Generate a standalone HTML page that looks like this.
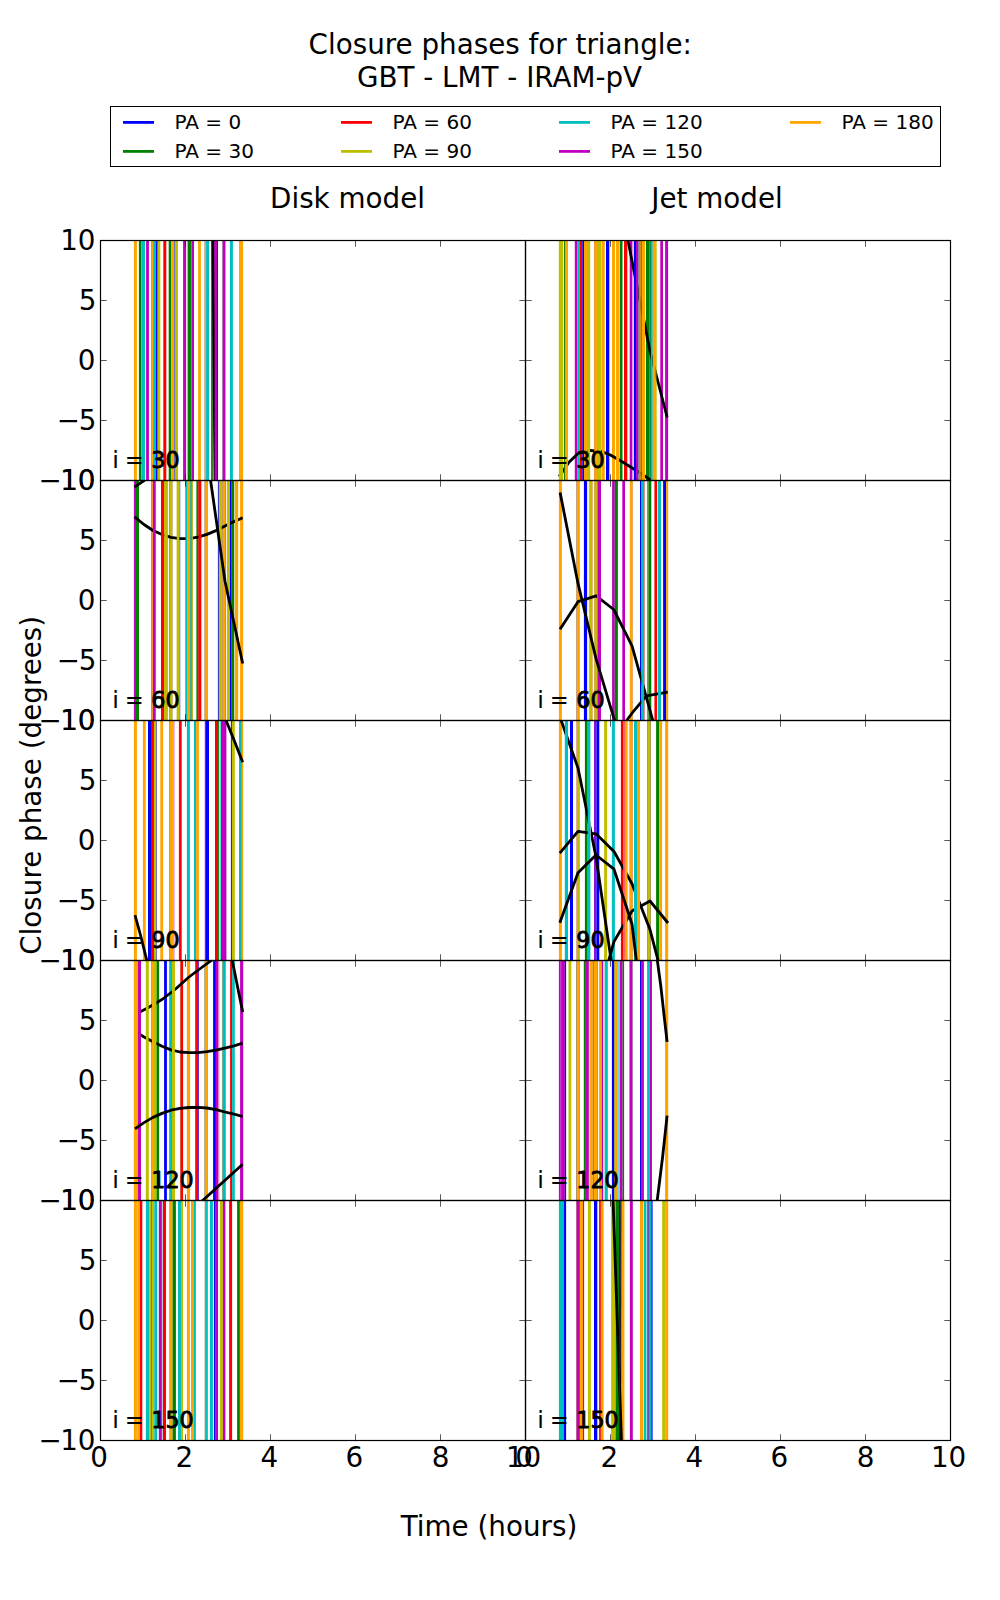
<!DOCTYPE html>
<html lang="en"><head><meta charset="utf-8"><title>Closure phases</title>
<style>html,body{margin:0;padding:0;background:#fff}svg{display:block}</style></head>
<body>
<svg width="1000" height="1600" viewBox="0 0 1000 1600" font-family="'DejaVu Sans', 'Liberation Sans', sans-serif" fill="#000">
<rect x="0" y="0" width="1000" height="1600" fill="#fff"/>
<defs>
<clipPath id="cp00"><rect x="101" y="241" width="424" height="239"/></clipPath>
<clipPath id="cp01"><rect x="526" y="241" width="424" height="239"/></clipPath>
<clipPath id="cp10"><rect x="101" y="481" width="424" height="239"/></clipPath>
<clipPath id="cp11"><rect x="526" y="481" width="424" height="239"/></clipPath>
<clipPath id="cp20"><rect x="101" y="721" width="424" height="239"/></clipPath>
<clipPath id="cp21"><rect x="526" y="721" width="424" height="239"/></clipPath>
<clipPath id="cp30"><rect x="101" y="961" width="424" height="239"/></clipPath>
<clipPath id="cp31"><rect x="526" y="961" width="424" height="239"/></clipPath>
<clipPath id="cp40"><rect x="101" y="1201" width="424" height="239"/></clipPath>
<clipPath id="cp41"><rect x="526" y="1201" width="424" height="239"/></clipPath>
</defs>
<g clip-path="url(#cp00)">
<rect x="133.90" y="240" width="3.00" height="241" fill="#ffa500"/><rect x="138.90" y="240" width="2.50" height="241" fill="#008000"/><rect x="141.40" y="240" width="3.60" height="241" fill="#00bfbf"/><rect x="146.10" y="240" width="2.80" height="241" fill="#bf00bf"/><rect x="151.00" y="240" width="0.90" height="241" fill="#b89090"/><rect x="151.90" y="240" width="1.20" height="241" fill="#ffa500"/><rect x="153.10" y="240" width="2.70" height="241" fill="#00bfbf"/><rect x="155.80" y="240" width="1.90" height="241" fill="#0000ff"/><rect x="157.70" y="240" width="2.60" height="241" fill="#bfbf00"/><rect x="163.30" y="240" width="3.00" height="241" fill="#ff0000"/><rect x="168.70" y="240" width="2.40" height="241" fill="#008000"/><rect x="171.10" y="240" width="2.80" height="241" fill="#ffa500"/><rect x="173.90" y="240" width="1.10" height="241" fill="#7070c0"/><rect x="175.00" y="240" width="3.00" height="241" fill="#bfbf00"/><rect x="183.10" y="240" width="3.00" height="241" fill="#bf00bf"/><rect x="187.10" y="240" width="0.90" height="241" fill="#ffa500"/><rect x="188.00" y="240" width="3.00" height="241" fill="#008000"/><rect x="191.30" y="240" width="2.70" height="241" fill="#bf00bf"/><rect x="198.10" y="240" width="2.80" height="241" fill="#ffa500"/><rect x="204.10" y="240" width="0.70" height="241" fill="#b0a0b0"/><rect x="204.80" y="240" width="1.30" height="241" fill="#ffa500"/><rect x="206.10" y="240" width="3.00" height="241" fill="#00bfbf"/><rect x="211.10" y="240" width="1.80" height="241" fill="#207020"/><rect x="214.10" y="240" width="3.00" height="241" fill="#bf00bf"/><rect x="217.10" y="240" width="0.90" height="241" fill="#0000ff"/><rect x="222.10" y="240" width="0.80" height="241" fill="#a070a0"/><rect x="222.90" y="240" width="2.30" height="241" fill="#bf00bf"/><rect x="225.20" y="240" width="0.70" height="241" fill="#a888a8"/><rect x="229.90" y="240" width="3.00" height="241" fill="#00bfbf"/><rect x="239.00" y="240" width="4.10" height="241" fill="#ffa500"/>
<polyline points="212.9,238.0 214.9,482.0" fill="none" stroke="#000" stroke-width="2.6" stroke-linejoin="round" stroke-linecap="butt"/>
<rect x="214.60" y="240" width="2.50" height="241" fill="#bf00bf"/><rect x="217.10" y="240" width="0.90" height="241" fill="#0000ff"/>
</g>
<g clip-path="url(#cp01)">
<rect x="558.90" y="240" width="4.20" height="241" fill="#bfbf00"/><rect x="564.00" y="240" width="0.90" height="241" fill="#008000"/><rect x="564.90" y="240" width="3.00" height="241" fill="#ffa500"/><rect x="574.80" y="240" width="2.70" height="241" fill="#bf00bf"/><rect x="577.50" y="240" width="2.40" height="241" fill="#00bfbf"/><rect x="579.90" y="240" width="2.40" height="241" fill="#ff0000"/><rect x="582.30" y="240" width="1.80" height="241" fill="#0000ff"/><rect x="584.10" y="240" width="3.30" height="241" fill="#ffa500"/><rect x="587.40" y="240" width="2.70" height="241" fill="#bfbf00"/><rect x="594.00" y="240" width="0.60" height="241" fill="#d08040"/><rect x="594.60" y="240" width="2.40" height="241" fill="#ffa500"/><rect x="597.00" y="240" width="0.70" height="241" fill="#b0a080"/><rect x="597.70" y="240" width="3.50" height="241" fill="#bfbf00"/><rect x="601.80" y="240" width="2.70" height="241" fill="#ffa500"/><rect x="606.00" y="240" width="3.30" height="241" fill="#0000ff"/><rect x="612.00" y="240" width="3.00" height="241" fill="#ffa500"/><rect x="616.20" y="240" width="3.00" height="241" fill="#ffa500"/><rect x="619.80" y="240" width="2.70" height="241" fill="#008000"/><rect x="624.00" y="240" width="3.30" height="241" fill="#ff0000"/><rect x="629.70" y="240" width="2.70" height="241" fill="#bf00bf"/><rect x="633.90" y="240" width="2.10" height="241" fill="#0000ff"/><rect x="636.00" y="240" width="2.40" height="241" fill="#bf00bf"/><rect x="638.70" y="240" width="1.30" height="241" fill="#40c060"/><rect x="640.00" y="240" width="0.80" height="241" fill="#bfbf00"/><rect x="640.80" y="240" width="0.90" height="241" fill="#ff0000"/><rect x="641.70" y="240" width="3.30" height="241" fill="#ffa500"/><rect x="645.90" y="240" width="3.30" height="241" fill="#008000"/><rect x="649.20" y="240" width="1.80" height="241" fill="#009060"/><rect x="651.00" y="240" width="1.50" height="241" fill="#00bfbf"/><rect x="652.80" y="240" width="2.70" height="241" fill="#ffa500"/><rect x="655.50" y="240" width="0.90" height="241" fill="#bfbf00"/><rect x="660.30" y="240" width="2.70" height="241" fill="#bf00bf"/><rect x="665.10" y="240" width="3.00" height="241" fill="#bf00bf"/>
<polyline points="627.5,238.0 632.0,261.0 650.0,351.0 667.2,417.5" fill="none" stroke="#000" stroke-width="2.8" stroke-linejoin="round" stroke-linecap="butt"/>
<polyline points="559.1,476.6 569.0,462.2 578.0,453.5 590.0,450.5 601.4,451.4 610.4,455.0 623.0,462.2 637.4,471.2 652.0,481.0" fill="none" stroke="#000" stroke-width="2.8" stroke-linejoin="round" stroke-linecap="butt"/>
<rect x="558.90" y="240" width="4.20" height="241" fill="#bfbf00"/><rect x="564.00" y="240" width="0.90" height="241" fill="#008000"/><rect x="564.90" y="240" width="3.00" height="241" fill="#ffa500"/><rect x="584.00" y="240" width="0.10" height="241" fill="#0000ff"/><rect x="584.10" y="240" width="3.30" height="241" fill="#ffa500"/><rect x="587.40" y="240" width="2.70" height="241" fill="#bfbf00"/><rect x="594.00" y="240" width="0.60" height="241" fill="#d08040"/><rect x="594.60" y="240" width="2.40" height="241" fill="#ffa500"/><rect x="597.00" y="240" width="0.70" height="241" fill="#b0a080"/><rect x="597.70" y="240" width="3.50" height="241" fill="#bfbf00"/><rect x="601.80" y="240" width="2.70" height="241" fill="#ffa500"/><rect x="616.20" y="240" width="3.00" height="241" fill="#ffa500"/><rect x="633.90" y="240" width="2.10" height="241" fill="#0000ff"/><rect x="636.00" y="240" width="2.40" height="241" fill="#bf00bf"/><rect x="638.70" y="240" width="1.30" height="241" fill="#40c060"/><rect x="640.00" y="240" width="0.80" height="241" fill="#bfbf00"/><rect x="640.80" y="240" width="0.90" height="241" fill="#ff0000"/><rect x="641.70" y="240" width="3.30" height="241" fill="#ffa500"/><rect x="650.80" y="240" width="0.20" height="241" fill="#009060"/><rect x="651.00" y="240" width="1.50" height="241" fill="#00bfbf"/><rect x="652.80" y="240" width="2.70" height="241" fill="#ffa500"/><rect x="655.50" y="240" width="0.90" height="241" fill="#bfbf00"/>
</g>
<g clip-path="url(#cp10)">
<rect x="133.90" y="480" width="2.10" height="241" fill="#bf00bf"/><rect x="136.00" y="480" width="3.00" height="241" fill="#008000"/><rect x="151.00" y="480" width="0.90" height="241" fill="#b08080"/><rect x="151.90" y="480" width="1.00" height="241" fill="#ffa500"/><rect x="152.90" y="480" width="2.60" height="241" fill="#bf00bf"/><rect x="161.10" y="480" width="3.10" height="241" fill="#ff0000"/><rect x="164.20" y="480" width="3.60" height="241" fill="#bfbf00"/><rect x="169.00" y="480" width="0.90" height="241" fill="#c08820"/><rect x="169.90" y="480" width="2.40" height="241" fill="#bfbf00"/><rect x="172.30" y="480" width="0.60" height="241" fill="#c0a070"/><rect x="176.80" y="480" width="2.50" height="241" fill="#bfbf00"/><rect x="179.30" y="480" width="0.90" height="241" fill="#7070c0"/><rect x="180.20" y="480" width="0.80" height="241" fill="#c8c8ff"/><rect x="185.50" y="480" width="1.50" height="241" fill="#00bfbf"/><rect x="187.00" y="480" width="3.10" height="241" fill="#ffa500"/><rect x="190.10" y="480" width="1.80" height="241" fill="#30b090"/><rect x="191.90" y="480" width="1.00" height="241" fill="#b0b830"/><rect x="196.40" y="480" width="2.10" height="241" fill="#008000"/><rect x="198.50" y="480" width="2.70" height="241" fill="#ff0000"/><rect x="204.10" y="480" width="0.80" height="241" fill="#c0a090"/><rect x="204.90" y="480" width="2.30" height="241" fill="#ffa500"/><rect x="207.20" y="480" width="0.70" height="241" fill="#d08030"/><rect x="217.90" y="480" width="1.00" height="241" fill="#0000ff"/><rect x="218.90" y="480" width="2.80" height="241" fill="#bfbf00"/><rect x="221.70" y="480" width="1.10" height="241" fill="#b08050"/><rect x="222.80" y="480" width="2.40" height="241" fill="#ffa500"/><rect x="225.20" y="480" width="0.90" height="241" fill="#b07840"/><rect x="227.00" y="480" width="3.00" height="241" fill="#bfbf00"/><rect x="230.00" y="480" width="1.10" height="241" fill="#0000ff"/><rect x="231.10" y="480" width="3.10" height="241" fill="#008000"/><rect x="234.90" y="480" width="3.20" height="241" fill="#ffa500"/><rect x="240.10" y="480" width="3.10" height="241" fill="#ffa500"/>
<polyline points="134.5,516.8 144.0,524.5 153.0,530.5 162.0,534.6 171.0,537.4 180.0,538.6 189.0,538.6 198.0,537.2 207.0,534.4 216.0,530.6 225.0,526.0 234.0,521.6 242.7,517.7" fill="none" stroke="#000" stroke-width="2.8" stroke-linejoin="round" stroke-linecap="butt"/>
<rect x="152.90" y="480" width="2.60" height="241" fill="#bf00bf"/><rect x="161.10" y="480" width="3.10" height="241" fill="#ff0000"/><rect x="164.20" y="480" width="3.60" height="241" fill="#bfbf00"/><rect x="176.80" y="480" width="2.50" height="241" fill="#bfbf00"/><rect x="185.50" y="480" width="1.50" height="241" fill="#00bfbf"/><rect x="187.00" y="480" width="3.10" height="241" fill="#ffa500"/><rect x="190.10" y="480" width="1.80" height="241" fill="#30b090"/><rect x="191.90" y="480" width="1.00" height="241" fill="#b0b830"/><rect x="198.50" y="480" width="2.70" height="241" fill="#ff0000"/><rect x="218.90" y="480" width="2.80" height="241" fill="#bfbf00"/><rect x="227.00" y="480" width="3.00" height="241" fill="#bfbf00"/><rect x="234.90" y="480" width="3.20" height="241" fill="#ffa500"/>
<polyline points="210.1,477.0 225.0,581.3 242.7,663.5" fill="none" stroke="#000" stroke-width="2.8" stroke-linejoin="round" stroke-linecap="butt"/>
<polyline points="134.5,487.1 144.8,480.0" fill="none" stroke="#000" stroke-width="2.8" stroke-linejoin="round" stroke-linecap="butt"/>
</g>
<g clip-path="url(#cp11)">
<rect x="558.90" y="480" width="3.00" height="241" fill="#ffa500"/><rect x="576.00" y="480" width="0.80" height="241" fill="#b08888"/><rect x="576.80" y="480" width="2.40" height="241" fill="#ffa500"/><rect x="579.20" y="480" width="0.70" height="241" fill="#c89060"/><rect x="583.90" y="480" width="3.20" height="241" fill="#0000ff"/><rect x="588.90" y="480" width="0.90" height="241" fill="#e0a040"/><rect x="589.80" y="480" width="2.40" height="241" fill="#bfbf00"/><rect x="592.20" y="480" width="0.70" height="241" fill="#e0a040"/><rect x="594.00" y="480" width="0.70" height="241" fill="#c08040"/><rect x="594.70" y="480" width="2.30" height="241" fill="#bfbf00"/><rect x="597.00" y="480" width="0.90" height="241" fill="#30c090"/><rect x="597.90" y="480" width="3.00" height="241" fill="#bf00bf"/><rect x="612.10" y="480" width="2.70" height="241" fill="#bf00bf"/><rect x="614.80" y="480" width="3.10" height="241" fill="#008000"/><rect x="622.30" y="480" width="2.70" height="241" fill="#bf00bf"/><rect x="629.80" y="480" width="2.50" height="241" fill="#ffa500"/><rect x="632.30" y="480" width="0.60" height="241" fill="#e08020"/><rect x="640.00" y="480" width="1.30" height="241" fill="#0000ff"/><rect x="641.30" y="480" width="2.80" height="241" fill="#00bfbf"/><rect x="644.10" y="480" width="0.80" height="241" fill="#ff7070"/><rect x="647.10" y="480" width="1.30" height="241" fill="#a08030"/><rect x="648.40" y="480" width="2.90" height="241" fill="#008000"/><rect x="654.40" y="480" width="2.70" height="241" fill="#ff0000"/><rect x="658.00" y="480" width="3.00" height="241" fill="#00bfbf"/><rect x="663.10" y="480" width="3.00" height="241" fill="#0000ff"/><rect x="666.10" y="480" width="2.10" height="241" fill="#ffa500"/>
<polyline points="560.0,629.3 578.0,601.7 596.2,595.9 613.7,609.5 632.0,645.9 650.0,710.3 654.0,725.0" fill="none" stroke="#000" stroke-width="2.8" stroke-linejoin="round" stroke-linecap="butt"/>
<rect x="597.00" y="480" width="0.90" height="241" fill="#30c090"/><rect x="597.90" y="480" width="3.00" height="241" fill="#bf00bf"/>
<polyline points="626.0,721.5 632.0,713.2 646.4,695.8 667.7,692.2" fill="none" stroke="#000" stroke-width="2.8" stroke-linejoin="round" stroke-linecap="butt"/>
<rect x="641.30" y="480" width="2.80" height="241" fill="#00bfbf"/><rect x="658.00" y="480" width="3.00" height="241" fill="#00bfbf"/>
<polyline points="560.1,492.4 578.0,583.4 596.0,658.7 614.0,718.7 615.0,722.0" fill="none" stroke="#000" stroke-width="2.8" stroke-linejoin="round" stroke-linecap="butt"/>
</g>
<g clip-path="url(#cp20)">
<rect x="133.90" y="720" width="3.00" height="241" fill="#ffa500"/><rect x="142.90" y="720" width="2.80" height="241" fill="#ffa500"/><rect x="148.00" y="720" width="3.00" height="241" fill="#0000ff"/><rect x="151.00" y="720" width="3.00" height="241" fill="#ff0000"/><rect x="154.00" y="720" width="2.10" height="241" fill="#bfbf00"/><rect x="156.10" y="720" width="0.90" height="241" fill="#6868b0"/><rect x="160.30" y="720" width="2.80" height="241" fill="#ffa500"/><rect x="169.00" y="720" width="0.90" height="241" fill="#d08850"/><rect x="169.90" y="720" width="4.00" height="241" fill="#ffa500"/><rect x="173.90" y="720" width="1.00" height="241" fill="#e8b0f0"/><rect x="178.90" y="720" width="2.80" height="241" fill="#ff0000"/><rect x="186.90" y="720" width="3.00" height="241" fill="#00bfbf"/><rect x="194.00" y="720" width="2.10" height="241" fill="#00bfbf"/><rect x="196.10" y="720" width="2.80" height="241" fill="#ffa500"/><rect x="204.80" y="720" width="1.20" height="241" fill="#9010c0"/><rect x="206.00" y="720" width="3.00" height="241" fill="#0000ff"/><rect x="215.00" y="720" width="3.10" height="241" fill="#ff0000"/><rect x="218.10" y="720" width="1.00" height="241" fill="#008000"/><rect x="219.90" y="720" width="1.10" height="241" fill="#60d8d8"/><rect x="221.00" y="720" width="5.40" height="241" fill="#bf00bf"/><rect x="230.90" y="720" width="1.00" height="241" fill="#0000ff"/><rect x="231.90" y="720" width="2.90" height="241" fill="#bfbf00"/><rect x="239.00" y="720" width="2.90" height="241" fill="#00bfbf"/><rect x="241.90" y="720" width="1.30" height="241" fill="#ffa500"/>
<polyline points="225.5,719.0 234.0,740.0 242.7,762.2" fill="none" stroke="#000" stroke-width="2.8" stroke-linejoin="round" stroke-linecap="butt"/>
<polyline points="135.0,915.2 141.0,937.0 147.2,962.0" fill="none" stroke="#000" stroke-width="2.8" stroke-linejoin="round" stroke-linecap="butt"/>
</g>
<g clip-path="url(#cp21)">
<rect x="558.90" y="720" width="3.00" height="241" fill="#ffa500"/><rect x="564.90" y="720" width="3.00" height="241" fill="#00bfbf"/><rect x="570.00" y="720" width="3.00" height="241" fill="#0000ff"/><rect x="576.00" y="720" width="0.90" height="241" fill="#e0a0a0"/><rect x="576.90" y="720" width="3.00" height="241" fill="#bfbf00"/><rect x="584.90" y="720" width="2.80" height="241" fill="#008000"/><rect x="587.70" y="720" width="2.40" height="241" fill="#00bfbf"/><rect x="590.10" y="720" width="0.70" height="241" fill="#a0e8e8"/><rect x="594.00" y="720" width="2.40" height="241" fill="#9010d0"/><rect x="596.40" y="720" width="2.90" height="241" fill="#0000ff"/><rect x="604.10" y="720" width="3.00" height="241" fill="#bfbf00"/><rect x="611.90" y="720" width="3.00" height="241" fill="#00bfbf"/><rect x="620.90" y="720" width="2.30" height="241" fill="#ff0000"/><rect x="623.20" y="720" width="1.70" height="241" fill="#ff6070"/><rect x="624.90" y="720" width="2.50" height="241" fill="#ffa500"/><rect x="628.90" y="720" width="0.90" height="241" fill="#d0b0e0"/><rect x="629.80" y="720" width="2.40" height="241" fill="#ffa500"/><rect x="632.20" y="720" width="0.70" height="241" fill="#e08020"/><rect x="634.00" y="720" width="3.00" height="241" fill="#00bfbf"/><rect x="637.00" y="720" width="3.00" height="241" fill="#ffa500"/><rect x="647.10" y="720" width="0.80" height="241" fill="#a07830"/><rect x="647.90" y="720" width="2.20" height="241" fill="#bfbf00"/><rect x="650.10" y="720" width="0.80" height="241" fill="#a07830"/><rect x="656.10" y="720" width="3.10" height="241" fill="#008000"/><rect x="659.20" y="720" width="2.90" height="241" fill="#ffa500"/><rect x="665.10" y="720" width="3.10" height="241" fill="#ffa500"/>
<polyline points="560.3,718.0 578.0,768.0 596.0,857.0 612.0,966.0" fill="none" stroke="#000" stroke-width="2.8" stroke-linejoin="round" stroke-linecap="butt"/>
<rect x="564.90" y="720" width="3.00" height="241" fill="#00bfbf"/>
<polyline points="559.8,853.2 578.0,831.4 596.0,833.8 614.0,851.5 632.0,883.7 650.0,929.6 659.5,966.0" fill="none" stroke="#000" stroke-width="2.8" stroke-linejoin="round" stroke-linecap="butt"/>
<polyline points="608.0,963.0 614.0,941.5 632.0,911.0 650.0,901.0 668.0,923.0" fill="none" stroke="#000" stroke-width="2.8" stroke-linejoin="round" stroke-linecap="butt"/>
<rect x="587.70" y="720" width="2.40" height="241" fill="#00bfbf"/><rect x="590.10" y="720" width="0.70" height="241" fill="#a0e8e8"/><rect x="623.20" y="720" width="1.70" height="241" fill="#ff6070"/><rect x="624.90" y="720" width="2.50" height="241" fill="#ffa500"/><rect x="634.00" y="720" width="3.00" height="241" fill="#00bfbf"/><rect x="637.00" y="720" width="3.00" height="241" fill="#ffa500"/>
<polyline points="559.8,922.7 578.0,872.7 596.0,855.0 614.0,869.2 632.0,924.0 637.0,966.0" fill="none" stroke="#000" stroke-width="2.8" stroke-linejoin="round" stroke-linecap="butt"/>
</g>
<g clip-path="url(#cp30)">
<rect x="133.90" y="960" width="4.20" height="241" fill="#ffa500"/><rect x="138.10" y="960" width="2.80" height="241" fill="#bf00bf"/><rect x="145.90" y="960" width="2.70" height="241" fill="#bfbf00"/><rect x="151.00" y="960" width="0.90" height="241" fill="#a89878"/><rect x="151.90" y="960" width="2.10" height="241" fill="#ffa500"/><rect x="154.00" y="960" width="2.40" height="241" fill="#bfbf00"/><rect x="156.40" y="960" width="2.70" height="241" fill="#008000"/><rect x="164.10" y="960" width="2.80" height="241" fill="#0000ff"/><rect x="169.00" y="960" width="0.70" height="241" fill="#30a080"/><rect x="169.70" y="960" width="2.30" height="241" fill="#00bfbf"/><rect x="172.00" y="960" width="2.90" height="241" fill="#bfbf00"/><rect x="180.10" y="960" width="0.70" height="241" fill="#d03010"/><rect x="180.80" y="960" width="2.30" height="241" fill="#ff0000"/><rect x="186.90" y="960" width="3.20" height="241" fill="#ffa500"/><rect x="195.20" y="960" width="2.90" height="241" fill="#ff0000"/><rect x="198.10" y="960" width="0.80" height="241" fill="#5000d0"/><rect x="204.10" y="960" width="0.80" height="241" fill="#a0a090"/><rect x="204.90" y="960" width="2.30" height="241" fill="#ffa500"/><rect x="207.20" y="960" width="0.70" height="241" fill="#c09010"/><rect x="213.10" y="960" width="2.80" height="241" fill="#0000ff"/><rect x="215.90" y="960" width="2.70" height="241" fill="#bf00bf"/><rect x="218.60" y="960" width="1.00" height="241" fill="#ffb0b0"/><rect x="222.10" y="960" width="0.80" height="241" fill="#609060"/><rect x="222.90" y="960" width="2.20" height="241" fill="#00bfbf"/><rect x="225.10" y="960" width="0.80" height="241" fill="#709850"/><rect x="230.10" y="960" width="2.00" height="241" fill="#ff0000"/><rect x="232.10" y="960" width="2.70" height="241" fill="#00bfbf"/><rect x="240.10" y="960" width="3.10" height="241" fill="#bf00bf"/>
<polyline points="134.5,1014.8 148.0,1007.8 162.0,999.5 175.0,989.5 189.0,977.0 201.0,968.0 214.0,958.5" fill="none" stroke="#000" stroke-width="2.8" stroke-linejoin="round" stroke-linecap="butt"/>
<polyline points="134.5,1031.0 144.0,1037.0 153.0,1041.8 162.0,1046.2 171.0,1049.9 180.0,1052.0 189.0,1052.6 198.0,1052.6 207.0,1051.7 216.0,1050.2 225.0,1048.1 234.0,1045.8 242.7,1043.2" fill="none" stroke="#000" stroke-width="2.8" stroke-linejoin="round" stroke-linecap="butt"/>
<rect x="133.90" y="960" width="4.20" height="241" fill="#ffa500"/><rect x="138.10" y="960" width="2.80" height="241" fill="#bf00bf"/><rect x="145.90" y="960" width="2.70" height="241" fill="#bfbf00"/><rect x="151.90" y="960" width="2.10" height="241" fill="#ffa500"/><rect x="154.00" y="960" width="2.40" height="241" fill="#bfbf00"/><rect x="172.00" y="960" width="2.90" height="241" fill="#bfbf00"/>
<polyline points="135.0,1128.8 144.0,1122.6 153.0,1117.4 162.0,1113.4 171.0,1110.2 180.0,1108.4 189.0,1107.5 198.0,1107.4 207.0,1108.0 216.0,1109.7 225.0,1112.0 234.0,1114.2 242.7,1116.5" fill="none" stroke="#000" stroke-width="2.8" stroke-linejoin="round" stroke-linecap="butt"/>
<polyline points="201.0,1202.0 242.7,1164.2" fill="none" stroke="#000" stroke-width="2.8" stroke-linejoin="round" stroke-linecap="butt"/>
<polyline points="231.8,958.0 237.0,984.0 242.7,1012.1" fill="none" stroke="#000" stroke-width="2.8" stroke-linejoin="round" stroke-linecap="butt"/>
</g>
<g clip-path="url(#cp31)">
<rect x="558.90" y="960" width="1.80" height="241" fill="#bf00bf"/><rect x="560.70" y="960" width="1.20" height="241" fill="#a414b4"/><rect x="561.90" y="960" width="3.00" height="241" fill="#bf00bf"/><rect x="564.90" y="960" width="1.20" height="241" fill="#0000ff"/><rect x="568.50" y="960" width="2.80" height="241" fill="#bfbf00"/><rect x="576.00" y="960" width="0.90" height="241" fill="#b08060"/><rect x="576.90" y="960" width="2.20" height="241" fill="#ffa500"/><rect x="579.10" y="960" width="0.80" height="241" fill="#b08060"/><rect x="583.80" y="960" width="2.10" height="241" fill="#008000"/><rect x="585.90" y="960" width="3.00" height="241" fill="#bf00bf"/><rect x="588.90" y="960" width="1.20" height="241" fill="#e0e080"/><rect x="590.10" y="960" width="2.80" height="241" fill="#ffa500"/><rect x="592.90" y="960" width="1.10" height="241" fill="#8080d0"/><rect x="594.00" y="960" width="3.00" height="241" fill="#ffa500"/><rect x="597.00" y="960" width="0.90" height="241" fill="#b08860"/><rect x="599.10" y="960" width="2.70" height="241" fill="#ffa500"/><rect x="601.80" y="960" width="1.20" height="241" fill="#bf00bf"/><rect x="603.30" y="960" width="1.20" height="241" fill="#b0e0b0"/><rect x="604.80" y="960" width="3.00" height="241" fill="#00bfbf"/><rect x="611.90" y="960" width="2.20" height="241" fill="#0000ff"/><rect x="614.10" y="960" width="0.80" height="241" fill="#909020"/><rect x="614.90" y="960" width="3.00" height="241" fill="#ffa500"/><rect x="617.90" y="960" width="2.00" height="241" fill="#70d8e8"/><rect x="619.90" y="960" width="2.70" height="241" fill="#bf00bf"/><rect x="622.60" y="960" width="1.50" height="241" fill="#008000"/><rect x="629.20" y="960" width="0.70" height="241" fill="#9868a8"/><rect x="629.90" y="960" width="2.40" height="241" fill="#bf00bf"/><rect x="632.30" y="960" width="0.60" height="241" fill="#9050a0"/><rect x="640.00" y="960" width="1.10" height="241" fill="#0000ff"/><rect x="641.10" y="960" width="2.80" height="241" fill="#bf00bf"/><rect x="647.10" y="960" width="2.50" height="241" fill="#00bfbf"/><rect x="649.60" y="960" width="2.40" height="241" fill="#bf00bf"/><rect x="665.10" y="960" width="0.70" height="241" fill="#c09010"/><rect x="665.80" y="960" width="2.40" height="241" fill="#ffa500"/>
<polyline points="657.0,958.0 660.8,986.0 664.4,1018.4 667.1,1041.8" fill="none" stroke="#000" stroke-width="2.8" stroke-linejoin="round" stroke-linecap="butt"/>
<polyline points="667.1,1115.6 662.6,1157.0 657.0,1202.0" fill="none" stroke="#000" stroke-width="2.8" stroke-linejoin="round" stroke-linecap="butt"/>
</g>
<g clip-path="url(#cp40)">
<rect x="133.90" y="1200" width="3.00" height="241" fill="#ffa500"/><rect x="136.90" y="1200" width="0.40" height="241" fill="#f09010"/><rect x="137.30" y="1200" width="2.60" height="241" fill="#ffa500"/><rect x="139.90" y="1200" width="2.40" height="241" fill="#ff0000"/><rect x="145.90" y="1200" width="3.20" height="241" fill="#00bfbf"/><rect x="149.10" y="1200" width="1.90" height="241" fill="#bfbf00"/><rect x="151.00" y="1200" width="0.90" height="241" fill="#5858a8"/><rect x="151.90" y="1200" width="2.40" height="241" fill="#bfbf00"/><rect x="154.30" y="1200" width="2.70" height="241" fill="#00bfbf"/><rect x="157.00" y="1200" width="1.90" height="241" fill="#e4f0ff"/><rect x="158.90" y="1200" width="2.90" height="241" fill="#bf00bf"/><rect x="161.80" y="1200" width="0.60" height="241" fill="#702070"/><rect x="162.40" y="1200" width="0.60" height="241" fill="#c0e0c0"/><rect x="163.00" y="1200" width="3.00" height="241" fill="#ff0000"/><rect x="169.00" y="1200" width="0.70" height="241" fill="#c09830"/><rect x="169.70" y="1200" width="2.90" height="241" fill="#ffa500"/><rect x="172.60" y="1200" width="3.30" height="241" fill="#008000"/><rect x="178.00" y="1200" width="3.00" height="241" fill="#00bfbf"/><rect x="181.00" y="1200" width="2.10" height="241" fill="#bfbf00"/><rect x="186.90" y="1200" width="3.00" height="241" fill="#ffa500"/><rect x="191.00" y="1200" width="3.00" height="241" fill="#ffa500"/><rect x="194.00" y="1200" width="1.90" height="241" fill="#00bfbf"/><rect x="204.50" y="1200" width="0.60" height="241" fill="#c0b0a0"/><rect x="205.10" y="1200" width="2.10" height="241" fill="#00bfbf"/><rect x="207.20" y="1200" width="0.70" height="241" fill="#409090"/><rect x="209.90" y="1200" width="3.00" height="241" fill="#00bfbf"/><rect x="213.90" y="1200" width="1.20" height="241" fill="#0000ff"/><rect x="215.10" y="1200" width="2.90" height="241" fill="#bf00bf"/><rect x="219.90" y="1200" width="3.00" height="241" fill="#bfbf00"/><rect x="222.90" y="1200" width="2.30" height="241" fill="#bf00bf"/><rect x="225.20" y="1200" width="0.70" height="241" fill="#d0a0a0"/><rect x="229.10" y="1200" width="3.00" height="241" fill="#ff0000"/><rect x="237.10" y="1200" width="2.80" height="241" fill="#008000"/><rect x="239.90" y="1200" width="3.30" height="241" fill="#ffa500"/>
</g>
<g clip-path="url(#cp41)">
<rect x="558.90" y="1200" width="5.10" height="241" fill="#00bfbf"/><rect x="564.00" y="1200" width="2.10" height="241" fill="#0000ff"/><rect x="576.00" y="1200" width="0.80" height="241" fill="#b05070"/><rect x="576.80" y="1200" width="3.10" height="241" fill="#bf00bf"/><rect x="579.90" y="1200" width="3.00" height="241" fill="#ffa500"/><rect x="582.90" y="1200" width="1.20" height="241" fill="#ff0000"/><rect x="587.90" y="1200" width="3.00" height="241" fill="#bfbf00"/><rect x="594.00" y="1200" width="3.30" height="241" fill="#0000ff"/><rect x="599.10" y="1200" width="1.80" height="241" fill="#ff0000"/><rect x="600.90" y="1200" width="2.70" height="241" fill="#ffa500"/><rect x="611.10" y="1200" width="4.50" height="241" fill="#bfbf00"/><rect x="615.60" y="1200" width="3.50" height="241" fill="#008000"/><rect x="619.10" y="1200" width="1.10" height="241" fill="#0000ff"/><rect x="621.70" y="1200" width="2.70" height="241" fill="#ffa500"/><rect x="629.90" y="1200" width="2.90" height="241" fill="#bf00bf"/><rect x="640.00" y="1200" width="3.00" height="241" fill="#ffa500"/><rect x="643.70" y="1200" width="2.30" height="241" fill="#00bfbf"/><rect x="646.00" y="1200" width="1.10" height="241" fill="#90e0e0"/><rect x="647.10" y="1200" width="1.90" height="241" fill="#7050b0"/><rect x="649.00" y="1200" width="2.30" height="241" fill="#00bfbf"/><rect x="651.30" y="1200" width="1.30" height="241" fill="#0000ff"/><rect x="662.20" y="1200" width="3.00" height="241" fill="#bfbf00"/><rect x="665.20" y="1200" width="3.00" height="241" fill="#ffa500"/>
<polyline points="613.0,1198.0 621.5,1442.0" fill="none" stroke="#000" stroke-width="2.8" stroke-linejoin="round" stroke-linecap="butt"/>
<rect x="619.10" y="1200" width="1.10" height="241" fill="#0000ff"/>
<polyline points="620.9,1198.0 620.7,1442.0" fill="none" stroke="#000" stroke-width="1.2" stroke-linejoin="round" stroke-linecap="butt"/>
</g>
<rect x="100.5" y="240.5" width="425.0" height="240.0" fill="none" stroke="#000" stroke-width="1.2"/>
<rect x="525.5" y="240.5" width="425.0" height="240.0" fill="none" stroke="#000" stroke-width="1.2"/>
<rect x="100.5" y="480.5" width="425.0" height="240.0" fill="none" stroke="#000" stroke-width="1.2"/>
<rect x="525.5" y="480.5" width="425.0" height="240.0" fill="none" stroke="#000" stroke-width="1.2"/>
<rect x="100.5" y="720.5" width="425.0" height="240.0" fill="none" stroke="#000" stroke-width="1.2"/>
<rect x="525.5" y="720.5" width="425.0" height="240.0" fill="none" stroke="#000" stroke-width="1.2"/>
<rect x="100.5" y="960.5" width="425.0" height="240.0" fill="none" stroke="#000" stroke-width="1.2"/>
<rect x="525.5" y="960.5" width="425.0" height="240.0" fill="none" stroke="#000" stroke-width="1.2"/>
<rect x="100.5" y="1200.5" width="425.0" height="240.0" fill="none" stroke="#000" stroke-width="1.2"/>
<rect x="525.5" y="1200.5" width="425.0" height="240.0" fill="none" stroke="#000" stroke-width="1.2"/>
<path d="M100.5 240.5h6.2M525.5 240.5h-6.2M100.5 300.5h6.2M525.5 300.5h-6.2M100.5 360.5h6.2M525.5 360.5h-6.2M100.5 420.5h6.2M525.5 420.5h-6.2M100.5 480.5h6.2M525.5 480.5h-6.2M100.5 240.5v6.2M100.5 480.5v-6.2M185.5 240.5v6.2M185.5 480.5v-6.2M270.5 240.5v6.2M270.5 480.5v-6.2M355.5 240.5v6.2M355.5 480.5v-6.2M440.5 240.5v6.2M440.5 480.5v-6.2M525.5 240.5v6.2M525.5 480.5v-6.2M525.5 240.5h6.2M950.5 240.5h-6.2M525.5 300.5h6.2M950.5 300.5h-6.2M525.5 360.5h6.2M950.5 360.5h-6.2M525.5 420.5h6.2M950.5 420.5h-6.2M525.5 480.5h6.2M950.5 480.5h-6.2M525.5 240.5v6.2M525.5 480.5v-6.2M610.5 240.5v6.2M610.5 480.5v-6.2M695.5 240.5v6.2M695.5 480.5v-6.2M780.5 240.5v6.2M780.5 480.5v-6.2M865.5 240.5v6.2M865.5 480.5v-6.2M950.5 240.5v6.2M950.5 480.5v-6.2M100.5 480.5h6.2M525.5 480.5h-6.2M100.5 540.5h6.2M525.5 540.5h-6.2M100.5 600.5h6.2M525.5 600.5h-6.2M100.5 660.5h6.2M525.5 660.5h-6.2M100.5 720.5h6.2M525.5 720.5h-6.2M100.5 480.5v6.2M100.5 720.5v-6.2M185.5 480.5v6.2M185.5 720.5v-6.2M270.5 480.5v6.2M270.5 720.5v-6.2M355.5 480.5v6.2M355.5 720.5v-6.2M440.5 480.5v6.2M440.5 720.5v-6.2M525.5 480.5v6.2M525.5 720.5v-6.2M525.5 480.5h6.2M950.5 480.5h-6.2M525.5 540.5h6.2M950.5 540.5h-6.2M525.5 600.5h6.2M950.5 600.5h-6.2M525.5 660.5h6.2M950.5 660.5h-6.2M525.5 720.5h6.2M950.5 720.5h-6.2M525.5 480.5v6.2M525.5 720.5v-6.2M610.5 480.5v6.2M610.5 720.5v-6.2M695.5 480.5v6.2M695.5 720.5v-6.2M780.5 480.5v6.2M780.5 720.5v-6.2M865.5 480.5v6.2M865.5 720.5v-6.2M950.5 480.5v6.2M950.5 720.5v-6.2M100.5 720.5h6.2M525.5 720.5h-6.2M100.5 780.5h6.2M525.5 780.5h-6.2M100.5 840.5h6.2M525.5 840.5h-6.2M100.5 900.5h6.2M525.5 900.5h-6.2M100.5 960.5h6.2M525.5 960.5h-6.2M100.5 720.5v6.2M100.5 960.5v-6.2M185.5 720.5v6.2M185.5 960.5v-6.2M270.5 720.5v6.2M270.5 960.5v-6.2M355.5 720.5v6.2M355.5 960.5v-6.2M440.5 720.5v6.2M440.5 960.5v-6.2M525.5 720.5v6.2M525.5 960.5v-6.2M525.5 720.5h6.2M950.5 720.5h-6.2M525.5 780.5h6.2M950.5 780.5h-6.2M525.5 840.5h6.2M950.5 840.5h-6.2M525.5 900.5h6.2M950.5 900.5h-6.2M525.5 960.5h6.2M950.5 960.5h-6.2M525.5 720.5v6.2M525.5 960.5v-6.2M610.5 720.5v6.2M610.5 960.5v-6.2M695.5 720.5v6.2M695.5 960.5v-6.2M780.5 720.5v6.2M780.5 960.5v-6.2M865.5 720.5v6.2M865.5 960.5v-6.2M950.5 720.5v6.2M950.5 960.5v-6.2M100.5 960.5h6.2M525.5 960.5h-6.2M100.5 1020.5h6.2M525.5 1020.5h-6.2M100.5 1080.5h6.2M525.5 1080.5h-6.2M100.5 1140.5h6.2M525.5 1140.5h-6.2M100.5 1200.5h6.2M525.5 1200.5h-6.2M100.5 960.5v6.2M100.5 1200.5v-6.2M185.5 960.5v6.2M185.5 1200.5v-6.2M270.5 960.5v6.2M270.5 1200.5v-6.2M355.5 960.5v6.2M355.5 1200.5v-6.2M440.5 960.5v6.2M440.5 1200.5v-6.2M525.5 960.5v6.2M525.5 1200.5v-6.2M525.5 960.5h6.2M950.5 960.5h-6.2M525.5 1020.5h6.2M950.5 1020.5h-6.2M525.5 1080.5h6.2M950.5 1080.5h-6.2M525.5 1140.5h6.2M950.5 1140.5h-6.2M525.5 1200.5h6.2M950.5 1200.5h-6.2M525.5 960.5v6.2M525.5 1200.5v-6.2M610.5 960.5v6.2M610.5 1200.5v-6.2M695.5 960.5v6.2M695.5 1200.5v-6.2M780.5 960.5v6.2M780.5 1200.5v-6.2M865.5 960.5v6.2M865.5 1200.5v-6.2M950.5 960.5v6.2M950.5 1200.5v-6.2M100.5 1200.5h6.2M525.5 1200.5h-6.2M100.5 1260.5h6.2M525.5 1260.5h-6.2M100.5 1320.5h6.2M525.5 1320.5h-6.2M100.5 1380.5h6.2M525.5 1380.5h-6.2M100.5 1440.5h6.2M525.5 1440.5h-6.2M100.5 1200.5v6.2M100.5 1440.5v-6.2M185.5 1200.5v6.2M185.5 1440.5v-6.2M270.5 1200.5v6.2M270.5 1440.5v-6.2M355.5 1200.5v6.2M355.5 1440.5v-6.2M440.5 1200.5v6.2M440.5 1440.5v-6.2M525.5 1200.5v6.2M525.5 1440.5v-6.2M525.5 1200.5h6.2M950.5 1200.5h-6.2M525.5 1260.5h6.2M950.5 1260.5h-6.2M525.5 1320.5h6.2M950.5 1320.5h-6.2M525.5 1380.5h6.2M950.5 1380.5h-6.2M525.5 1440.5h6.2M950.5 1440.5h-6.2M525.5 1200.5v6.2M525.5 1440.5v-6.2M610.5 1200.5v6.2M610.5 1440.5v-6.2M695.5 1200.5v6.2M695.5 1440.5v-6.2M780.5 1200.5v6.2M780.5 1440.5v-6.2M865.5 1200.5v6.2M865.5 1440.5v-6.2M950.5 1200.5v6.2M950.5 1440.5v-6.2" stroke="#000" stroke-width="0.65" fill="none"/>
<text x="112.6" y="468.0" font-size="22.2" stroke="#000" stroke-linejoin="round"><tspan stroke-width="0.2">i <tspan dx="-0.7">=</tspan> </tspan><tspan dx="0.5" stroke-width="0.85">30</tspan></text>
<text x="537.6" y="468.0" font-size="22.2" stroke="#000" stroke-linejoin="round"><tspan stroke-width="0.2">i <tspan dx="-0.7">=</tspan> </tspan><tspan dx="0.5" stroke-width="0.85">30</tspan></text>
<text x="112.6" y="708.0" font-size="22.2" stroke="#000" stroke-linejoin="round"><tspan stroke-width="0.2">i <tspan dx="-0.7">=</tspan> </tspan><tspan dx="0.5" stroke-width="0.85">60</tspan></text>
<text x="537.6" y="708.0" font-size="22.2" stroke="#000" stroke-linejoin="round"><tspan stroke-width="0.2">i <tspan dx="-0.7">=</tspan> </tspan><tspan dx="0.5" stroke-width="0.85">60</tspan></text>
<text x="112.6" y="948.0" font-size="22.2" stroke="#000" stroke-linejoin="round"><tspan stroke-width="0.2">i <tspan dx="-0.7">=</tspan> </tspan><tspan dx="0.5" stroke-width="0.85">90</tspan></text>
<text x="537.6" y="948.0" font-size="22.2" stroke="#000" stroke-linejoin="round"><tspan stroke-width="0.2">i <tspan dx="-0.7">=</tspan> </tspan><tspan dx="0.5" stroke-width="0.85">90</tspan></text>
<text x="112.6" y="1188.0" font-size="22.2" stroke="#000" stroke-linejoin="round"><tspan stroke-width="0.2">i <tspan dx="-0.7">=</tspan> </tspan><tspan dx="0.5" stroke-width="0.85">120</tspan></text>
<text x="537.6" y="1188.0" font-size="22.2" stroke="#000" stroke-linejoin="round"><tspan stroke-width="0.2">i <tspan dx="-0.7">=</tspan> </tspan><tspan dx="0.5" stroke-width="0.85">120</tspan></text>
<text x="112.6" y="1428.0" font-size="22.2" stroke="#000" stroke-linejoin="round"><tspan stroke-width="0.2">i <tspan dx="-0.7">=</tspan> </tspan><tspan dx="0.5" stroke-width="0.85">150</tspan></text>
<text x="537.6" y="1428.0" font-size="22.2" stroke="#000" stroke-linejoin="round"><tspan stroke-width="0.2">i <tspan dx="-0.7">=</tspan> </tspan><tspan dx="0.5" stroke-width="0.85">150</tspan></text>
<text x="95.5" y="250.2" font-size="27.78" text-anchor="end">10</text>
<text x="96.3" y="310.2" font-size="27.78" text-anchor="end">5</text>
<text x="95.5" y="370.2" font-size="27.78" text-anchor="end">0</text>
<text x="96.3" y="430.2" font-size="27.78" text-anchor="end">−<tspan dx="-1.5">5</tspan></text>
<text x="95.5" y="490.2" font-size="27.78" text-anchor="end">−<tspan dx="-1.5">10</tspan></text>
<text x="95.5" y="490.2" font-size="27.78" text-anchor="end">10</text>
<text x="96.3" y="550.2" font-size="27.78" text-anchor="end">5</text>
<text x="95.5" y="610.2" font-size="27.78" text-anchor="end">0</text>
<text x="96.3" y="670.2" font-size="27.78" text-anchor="end">−<tspan dx="-1.5">5</tspan></text>
<text x="95.5" y="730.2" font-size="27.78" text-anchor="end">−<tspan dx="-1.5">10</tspan></text>
<text x="95.5" y="730.2" font-size="27.78" text-anchor="end">10</text>
<text x="96.3" y="790.2" font-size="27.78" text-anchor="end">5</text>
<text x="95.5" y="850.2" font-size="27.78" text-anchor="end">0</text>
<text x="96.3" y="910.2" font-size="27.78" text-anchor="end">−<tspan dx="-1.5">5</tspan></text>
<text x="95.5" y="970.2" font-size="27.78" text-anchor="end">−<tspan dx="-1.5">10</tspan></text>
<text x="95.5" y="970.2" font-size="27.78" text-anchor="end">10</text>
<text x="96.3" y="1030.2" font-size="27.78" text-anchor="end">5</text>
<text x="95.5" y="1090.2" font-size="27.78" text-anchor="end">0</text>
<text x="96.3" y="1150.2" font-size="27.78" text-anchor="end">−<tspan dx="-1.5">5</tspan></text>
<text x="95.5" y="1210.2" font-size="27.78" text-anchor="end">−<tspan dx="-1.5">10</tspan></text>
<text x="95.5" y="1210.2" font-size="27.78" text-anchor="end">10</text>
<text x="96.3" y="1270.2" font-size="27.78" text-anchor="end">5</text>
<text x="95.5" y="1330.2" font-size="27.78" text-anchor="end">0</text>
<text x="96.3" y="1390.2" font-size="27.78" text-anchor="end">−<tspan dx="-1.5">5</tspan></text>
<text x="95.5" y="1450.2" font-size="27.78" text-anchor="end">−<tspan dx="-1.5">10</tspan></text>
<text x="99.2" y="1466.5" font-size="27.78" text-anchor="middle">0</text>
<text x="184.4" y="1466.5" font-size="27.78" text-anchor="middle">2</text>
<text x="269.3" y="1466.5" font-size="27.78" text-anchor="middle">4</text>
<text x="354.3" y="1466.5" font-size="27.78" text-anchor="middle">6</text>
<text x="440.5" y="1466.5" font-size="27.78" text-anchor="middle">8</text>
<text x="523.6" y="1466.5" font-size="27.78" text-anchor="middle">10</text>
<text x="524.2" y="1466.5" font-size="27.78" text-anchor="middle">0</text>
<text x="609.4" y="1466.5" font-size="27.78" text-anchor="middle">2</text>
<text x="694.3" y="1466.5" font-size="27.78" text-anchor="middle">4</text>
<text x="779.3" y="1466.5" font-size="27.78" text-anchor="middle">6</text>
<text x="865.5" y="1466.5" font-size="27.78" text-anchor="middle">8</text>
<text x="948.6" y="1466.5" font-size="27.78" text-anchor="middle">10</text>
<text x="500.3" y="54" font-size="27.78" text-anchor="middle">Closure phases for triangle:</text>
<text x="499.5" y="87" font-size="27.78" text-anchor="middle">GBT - LMT - IRAM-pV</text>
<text x="347.5" y="207.5" font-size="27.78" text-anchor="middle">Disk model</text>
<text x="717" y="207.5" font-size="27.78" text-anchor="middle">Jet model</text>
<text x="489" y="1535.5" font-size="27.78" text-anchor="middle">Time (hours)</text>
<text transform="translate(40.8,785.3) rotate(-90)" font-size="27.78" text-anchor="middle">Closure phase (degrees)</text>
<rect x="110.5" y="106.5" width="830" height="60" fill="#fff" stroke="#000" stroke-width="1"/>
<line x1="123" y1="122.4" x2="154" y2="122.4" stroke="#0000ff" stroke-width="2.8"/>
<text x="174.5" y="129.3" font-size="20">PA = 0</text>
<line x1="123" y1="151.4" x2="154" y2="151.4" stroke="#008000" stroke-width="2.8"/>
<text x="174.5" y="158.3" font-size="20">PA = 30</text>
<line x1="341" y1="122.4" x2="372" y2="122.4" stroke="#ff0000" stroke-width="2.8"/>
<text x="392.5" y="129.3" font-size="20">PA = 60</text>
<line x1="341" y1="151.4" x2="372" y2="151.4" stroke="#bfbf00" stroke-width="2.8"/>
<text x="392.5" y="158.3" font-size="20">PA = 90</text>
<line x1="559" y1="122.4" x2="590" y2="122.4" stroke="#00bfbf" stroke-width="2.8"/>
<text x="610.5" y="129.3" font-size="20">PA = 120</text>
<line x1="559" y1="151.4" x2="590" y2="151.4" stroke="#bf00bf" stroke-width="2.8"/>
<text x="610.5" y="158.3" font-size="20">PA = 150</text>
<line x1="790" y1="122.4" x2="821" y2="122.4" stroke="#ffa500" stroke-width="2.8"/>
<text x="841.5" y="129.3" font-size="20">PA = 180</text>
</svg>
</body></html>
